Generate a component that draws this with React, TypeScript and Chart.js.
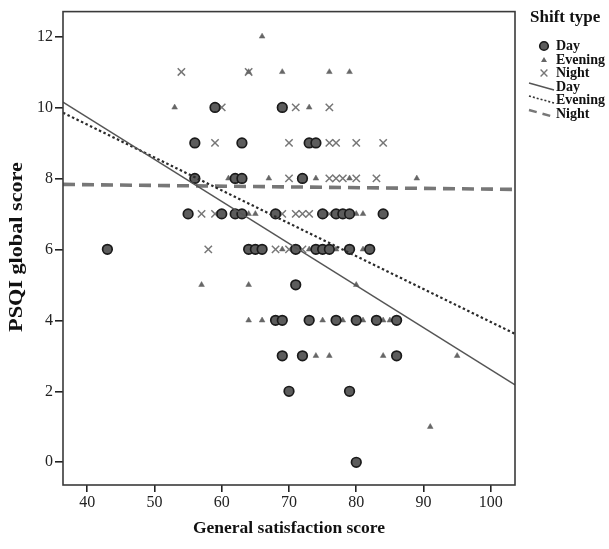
import { useEffect, useRef } from "react";
import { Chart, registerables } from "chart.js";

Chart.register(...registerables);

// ---- data ----
const dayX = [59, 69, 56, 63, 73, 74, 56, 62, 63, 72, 55, 60, 62, 63, 68, 75, 77, 78, 79, 84, 43, 64, 65, 66, 71, 74, 75, 76, 79, 82, 71, 68, 69, 73, 77, 80, 83, 86, 69, 72, 86, 70, 79, 80];
const dayY = [10, 10, 9, 9, 9, 9, 8, 8, 8, 8, 7, 7, 7, 7, 7, 7, 7, 7, 7, 7, 6, 6, 6, 6, 6, 6, 6, 6, 6, 6, 5, 4, 4, 4, 4, 4, 4, 4, 3, 3, 3, 2, 2, 0];

const eveningX = [66, 64, 69, 76, 79, 53, 73, 61, 67, 74, 79, 89, 64, 65, 80, 81, 69, 73, 77, 81, 57, 64, 80, 64, 66, 75, 78, 81, 84, 85, 74, 76, 84, 95, 91];
const eveningY = [12, 11, 11, 11, 11, 10, 10, 8, 8, 8, 8, 8, 7, 7, 7, 7, 6, 6, 6, 6, 5, 5, 5, 4, 4, 4, 4, 4, 4, 4, 3, 3, 3, 3, 1];

const nightX = [54, 64, 60, 71, 76, 59, 70, 76, 77, 80, 84, 70, 76, 77, 78, 80, 83, 57, 59, 69, 71, 72, 73, 76, 58, 68, 70, 72];
const nightY = [11, 11, 10, 10, 10, 9, 9, 9, 9, 9, 9, 8, 8, 8, 8, 8, 8, 7, 7, 7, 7, 7, 7, 7, 6, 6, 6, 6];

// fit lines (end points)
const fitX = [36.4, 103.6];
const dayFitY = [10.15, 2.18];
const eveningFitY = [9.85, 3.62];
const nightFitY = [7.83, 7.69];

const xTicks = [40, 50, 60, 70, 80, 90, 100];
const yTicks = [0, 2, 4, 6, 8, 10, 12];
const xRange = [36.4, 103.6];
const yRange = [-0.64, 12.7];

const xTitle = "General satisfaction score";
const yTitle = "PSQI global score";
const legendTitle = "Shift type";
const seriesNames = ["Day", "Evening", "Night"];

const SERIF = "'Liberation Serif', 'DejaVu Serif', serif";

const pts = (xs: number[], ys: number[]) => xs.map((x, i) => ({ x, y: ys[i] }));

function drawMarker(ctx: CanvasRenderingContext2D, kind: number, x: number, y: number) {
  ctx.save();
  if (kind === 0) {
    ctx.beginPath();
    ctx.arc(x, y, 4.3, 0, Math.PI * 2);
    ctx.fillStyle = "#5c5c5c";
    ctx.fill();
    ctx.lineWidth = 1.6;
    ctx.strokeStyle = "#1a1a1a";
    ctx.stroke();
  } else if (kind === 1) {
    ctx.beginPath();
    ctx.moveTo(x, y - 3.1);
    ctx.lineTo(x + 3, y + 2);
    ctx.lineTo(x - 3, y + 2);
    ctx.closePath();
    ctx.fillStyle = "#666";
    ctx.fill();
  } else {
    ctx.beginPath();
    ctx.moveTo(x - 3.4, y - 3.4);
    ctx.lineTo(x + 3.4, y + 3.4);
    ctx.moveTo(x + 3.4, y - 3.4);
    ctx.lineTo(x - 3.4, y + 3.4);
    ctx.lineWidth = 1.4;
    ctx.strokeStyle = "#777";
    ctx.stroke();
  }
  ctx.restore();
}

const decorPlugin = {
  id: "decor",
  afterDraw(chart: any) {
    const ctx: CanvasRenderingContext2D = chart.ctx;
    const a = chart.chartArea;
    ctx.save();
    // frame
    ctx.strokeStyle = "#3a3a3a";
    ctx.lineWidth = 1.6;
    ctx.strokeRect(a.left, a.top, a.right - a.left, a.bottom - a.top);

    // axis titles
    ctx.fillStyle = "#111";
    ctx.textAlign = "center";
    ctx.textBaseline = "middle";
    ctx.font = `bold 17.5px ${SERIF}`;
    ctx.fillText(xTitle, 289, 528);
    ctx.save();
    ctx.translate(17, 247);
    ctx.rotate(-Math.PI / 2);
    ctx.scale(1.2, 1);
    ctx.font = `bold 18.5px ${SERIF}`;
    ctx.fillText(yTitle, 0, 0);
    ctx.restore();

    // legend
    ctx.textAlign = "left";
    ctx.font = `bold 17px ${SERIF}`;
    ctx.fillText(legendTitle, 530, 18);
    ctx.font = `bold 14px ${SERIF}`;
    const markerRows = [46, 60, 73];
    markerRows.forEach((yy, i) => {
      drawMarker(ctx, i, 544, yy);
      ctx.fillStyle = "#111";
      ctx.fillText(seriesNames[i], 556, yy);
    });
    const lineRows = [87, 100, 114];
    const lineStyles = [
      { color: "#555", width: 1.4, dash: [] as number[] },
      { color: "#333", width: 1.6, dash: [2, 2] },
      { color: "#777", width: 2.4, dash: [8, 6] },
    ];
    lineRows.forEach((yy, i) => {
      const st = lineStyles[i];
      ctx.save();
      ctx.beginPath();
      ctx.moveTo(529, yy - 4);
      ctx.lineTo(554, yy + 3);
      ctx.strokeStyle = st.color;
      ctx.lineWidth = st.width;
      ctx.setLineDash(st.dash);
      ctx.stroke();
      ctx.restore();
      ctx.fillStyle = "#111";
      ctx.fillText(seriesNames[i], 556, yy);
    });
    ctx.restore();
  },
};

export default function App() {
  const ref = useRef<HTMLCanvasElement | null>(null);

  useEffect(() => {
    document.body.style.margin = "0";
    const canvas = ref.current;
    if (!canvas) return;
    const chart = new Chart(canvas, {
      type: "scatter",
      data: {
        datasets: [
          {
            label: "Day",
            data: pts(dayX, dayY),
            pointStyle: "circle",
            pointRadius: 4.8,
            pointBackgroundColor: "#5c5c5c",
            pointBorderColor: "#1a1a1a",
            pointBorderWidth: 1.7,
            order: 3,
          },
          {
            label: "Evening",
            data: pts(eveningX, eveningY),
            pointStyle: "triangle",
            pointRadius: 3.3,
            pointBackgroundColor: "#666",
            pointBorderColor: "#666",
            pointBorderWidth: 0.5,
            order: 4,
          },
          {
            label: "Night",
            data: pts(nightX, nightY),
            pointStyle: "crossRot",
            pointRadius: 5.2,
            pointBorderColor: "#777",
            pointBorderWidth: 1.5,
            order: 5,
          },
          {
            type: "line",
            label: "Day fit",
            data: pts(fitX, dayFitY),
            borderColor: "#555",
            borderWidth: 1.4,
            pointRadius: 0,
            showLine: true,
            order: 0,
          },
          {
            type: "line",
            label: "Evening fit",
            data: pts(fitX, eveningFitY),
            borderColor: "#2a2a2a",
            borderWidth: 2.2,
            borderDash: [2.5, 2.5],
            pointRadius: 0,
            showLine: true,
            order: 1,
          },
          {
            type: "line",
            label: "Night fit",
            data: pts(fitX, nightFitY),
            borderColor: "#777",
            borderWidth: 3.6,
            borderDash: [12, 7],
            pointRadius: 0,
            showLine: true,
            order: 2,
          },
        ],
      } as any,
      options: {
        animation: false,
        responsive: false,
        maintainAspectRatio: false,
        events: [],
        layout: { padding: { left: 0, top: 8, right: 94, bottom: 0 } },
        plugins: {
          legend: { display: false },
          tooltip: { enabled: false },
        },
        scales: {
          x: {
            type: "linear",
            min: xRange[0],
            max: xRange[1],
            afterBuildTicks: (s: any) => {
              s.ticks = xTicks.map((v) => ({ value: v }));
            },
            afterFit: (s: any) => {
              s.height = 64;
            },
            grid: {
              drawOnChartArea: false,
              drawTicks: true,
              tickLength: 7,
              color: "#222",
              lineWidth: 1.6,
            },
            border: { display: false },
            ticks: {
              color: "#222",
              padding: 1,
              font: { family: SERIF, size: 16 },
            },
          },
          y: {
            type: "linear",
            min: yRange[0],
            max: yRange[1],
            afterBuildTicks: (s: any) => {
              s.ticks = yTicks.map((v) => ({ value: v }));
            },
            afterFit: (s: any) => {
              s.width = 63;
            },
            grid: {
              drawOnChartArea: false,
              drawTicks: true,
              tickLength: 8,
              color: "#222",
              lineWidth: 1.6,
            },
            border: { display: false },
            ticks: {
              color: "#222",
              padding: 2,
              font: { family: SERIF, size: 16 },
            },
          },
        },
      } as any,
      plugins: [decorPlugin],
    });
    return () => chart.destroy();
  }, []);

  return (
    <div style={{ width: 609, height: 549, background: "#fff" }}>
      <canvas ref={ref} width={609} height={549} style={{ display: "block" }} />
    </div>
  );
}
